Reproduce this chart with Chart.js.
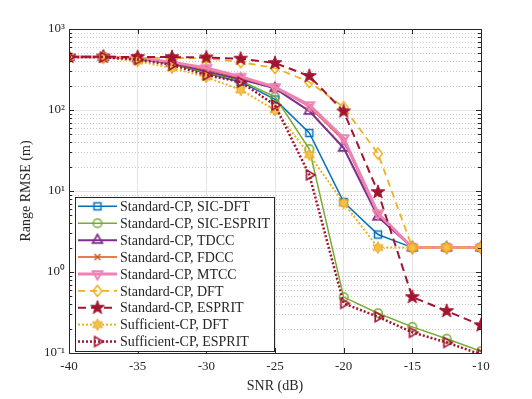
<!DOCTYPE html>
<html lang="en">
<head>
  <meta charset="utf-8" />
  <title>Range RMSE vs SNR</title>
  <script src="https://cdn.jsdelivr.net/npm/chart.js@4.4.1/dist/chart.umd.min.js"></script>
  <style>
    html, body { margin: 0; padding: 0; background: #fff; }
    #chart { display: block; }
  </style>
</head>
<body>
<canvas id="chart" width="532" height="399"></canvas>

<script>
// SNR points (dB)
const snr = [-40, -37.5, -35, -32.5, -30, -27.5, -25, -22.5, -20, -17.5, -15, -12.5, -10];

// Range RMSE (m)
const sicDft      = [450, 450, 430, 370, 285, 222, 135, 52, 7.3, 2.9, 2, 2, 2];
const sicEsprit   = [450, 450, 430, 370, 290, 230, 145, 33, 0.49, 0.31, 0.21, 0.15, 0.105];
const tdcc        = [450, 450, 435, 380, 300, 240, 185, 97, 34, 4.8, 2, 2, 2];
const fdcc        = [450, 450, 440, 385, 315, 250, 190, 110, 42, 5.1, 2, 2, 2];
const mtcc        = [450, 450, 440, 390, 330, 258, 192, 115, 45, 5.3, 2, 2, 2];
const stdDft      = [450, 450, 440, 440, 435, 390, 330, 222, 108, 29, 2, 2, 2];
const stdEsprit   = [455, 455, 450, 450, 445, 430, 380, 263, 96, 9.7, 0.49, 0.33, 0.22];
const sufDft      = [450, 445, 400, 330, 255, 177, 100, 28, 7.1, 2.0, 2, 2, 2];
const sufEsprit   = [450, 450, 420, 360, 270, 222, 115, 15.8, 0.41, 0.28, 0.18, 0.135, 0.096];

const seriesNames = [
  'Standard-CP, SIC-DFT',
  'Standard-CP, SIC-ESPRIT',
  'Standard-CP, TDCC',
  'Standard-CP, FDCC',
  'Standard-CP, MTCC',
  'Standard-CP, DFT',
  'Standard-CP, ESPRIT',
  'Sufficient-CP, DFT',
  'Sufficient-CP, ESPRIT'
];

const yTickValues = [0.1, 1, 10, 100, 1000];
const yTickLabels = ['10\u207B\u00B9', '10\u2070', '10\u00B9', '10\u00B2', '10\u00B3'];
const xTickValues = [-40, -35, -30, -25, -20, -15, -10];

const FONT = '"Liberation Serif", "Times New Roman", serif';
const INK = '#262626';

/**
 * makeMarker
 * Draws a marker glyph into a small offscreen canvas, used as pointStyle.
 */
function makeMarker(kind, color, lw, fill) {
  const s = 18;
  const c = document.createElement('canvas');
  c.width = s; c.height = s;
  const g = c.getContext('2d');
  const m = s / 2;
  g.strokeStyle = color;
  g.fillStyle = fill || color;
  g.lineWidth = lw;
  g.lineJoin = 'miter';
  g.beginPath();
  if (kind === 'square') {
    g.rect(m - 3.5, m - 3.5, 7, 7);
  } else if (kind === 'circle') {
    g.arc(m, m, 4.3, 0, Math.PI * 2);
  } else if (kind === 'triUp' || kind === 'triDown' || kind === 'triRight') {
    const rot = kind === 'triUp' ? -Math.PI / 2 : (kind === 'triDown' ? Math.PI / 2 : 0);
    for (let i = 0; i < 3; i++) {
      const a = rot + i * 2 * Math.PI / 3;
      const px = m + 5.6 * Math.cos(a), py = m + 5.6 * Math.sin(a);
      if (i === 0) g.moveTo(px, py); else g.lineTo(px, py);
    }
    g.closePath();
  } else if (kind === 'cross') {
    g.moveTo(m - 3, m - 3); g.lineTo(m + 3, m + 3);
    g.moveTo(m + 3, m - 3); g.lineTo(m - 3, m + 3);
  } else if (kind === 'diamond') {
    g.moveTo(m, m - 5.5); g.lineTo(m + 4.5, m); g.lineTo(m, m + 5.5); g.lineTo(m - 4.5, m);
    g.closePath();
  } else if (kind === 'star5' || kind === 'star6') {
    const n = kind === 'star5' ? 5 : 6;
    const ro = kind === 'star5' ? 7.2 : 5.8;
    const ri = kind === 'star5' ? 2.9 : 3.2;
    for (let i = 0; i < n * 2; i++) {
      const r = i % 2 === 0 ? ro : ri;
      const a = -Math.PI / 2 + i * Math.PI / n;
      const px = m + r * Math.cos(a), py = m + r * Math.sin(a);
      if (i === 0) g.moveTo(px, py); else g.lineTo(px, py);
    }
    g.closePath();
  }
  if (fill) g.fill();
  g.stroke();
  return c;
}

const colors = ['#0072BD', '#77AC30', '#7E2F8E', '#D95319', '#EE82B6', '#EDB120', '#A2142F', '#EDB120', '#A2142F'];
const values = [sicDft, sicEsprit, tdcc, fdcc, mtcc, stdDft, stdEsprit, sufDft, sufEsprit];
const widths = [1.5, 1.5, 2, 1.5, 3, 1.8, 2, 2, 2.5];
const dashes = [[], [], [], [], [], [7, 5], [8, 5], [2, 2], [2, 2]];
const markers = [
  makeMarker('square', colors[0], 1.5),
  makeMarker('circle', colors[1], 1.5),
  makeMarker('triUp', colors[2], 1.8),
  makeMarker('cross', colors[3], 1.5),
  makeMarker('triDown', colors[4], 2),
  makeMarker('diamond', colors[5], 1.5),
  makeMarker('star5', colors[6], 1, colors[6]),
  makeMarker('star6', '#E8A81C', 1, '#F2C14A'),
  makeMarker('triRight', colors[8], 1.6)
];

const datasets = seriesNames.map((name, i) => ({
  label: name,
  data: snr.map((x, k) => ({ x: x, y: values[i][k] })),
  borderColor: colors[i],
  backgroundColor: colors[i],
  borderWidth: widths[i],
  borderDash: dashes[i],
  pointStyle: markers[i],
  pointRadius: 5,
  pointHoverRadius: 5,
  fill: false,
  tension: 0,
  order: 20 - i   // later series on top, as in the figure
}));

// Dotted minor grid on the log axis, drawn under the data
const minorGrid = {
  id: 'minorGrid',
  beforeDatasetsDraw(chart) {
    const { ctx, chartArea: a, scales: { y } } = chart;
    ctx.save();
    ctx.strokeStyle = '#c8c8c8';
    ctx.lineWidth = 1;
    ctx.setLineDash([1, 2]);
    for (let d = 0.1; d < 1000; d *= 10) {
      for (let k = 2; k <= 9; k++) {
        const py = Math.round(y.getPixelForValue(d * k)) + 0.5;
        ctx.beginPath();
        ctx.moveTo(a.left, py);
        ctx.lineTo(a.right, py);
        ctx.stroke();
      }
    }
    ctx.restore();
  }
};

// Box and inward tick marks, MATLAB-like
const axesBox = {
  id: 'axesBox',
  afterDatasetsDraw(chart) {
    const { ctx, chartArea: a, scales: { x, y } } = chart;
    ctx.save();
    ctx.strokeStyle = INK;
    ctx.lineWidth = 1;
    ctx.beginPath();
    xTickValues.forEach(v => {
      const px = Math.round(x.getPixelForValue(v)) + 0.5;
      ctx.moveTo(px, a.bottom); ctx.lineTo(px, a.bottom - 5);
      ctx.moveTo(px, a.top); ctx.lineTo(px, a.top + 5);
    });
    for (let d = 0.1; d <= 1000; d *= 10) {
      for (let k = 1; k <= 9; k++) {
        if (d * k > 1000.001) break;
        const len = k === 1 ? 5 : 3;
        const py = Math.round(y.getPixelForValue(d * k)) + 0.5;
        ctx.moveTo(a.left, py); ctx.lineTo(a.left + len, py);
        ctx.moveTo(a.right, py); ctx.lineTo(a.right - len, py);
      }
    }
    ctx.stroke();
    ctx.strokeRect(Math.round(a.left) + 0.5, Math.round(a.top) + 0.5,
      Math.round(a.right - a.left), Math.round(a.bottom - a.top));
    ctx.restore();
  }
};

// Legend box inside the lower-left corner of the plot
const innerLegend = {
  id: 'innerLegend',
  afterDraw(chart) {
    const { ctx, chartArea: a } = chart;
    const rowH = 16.9;
    const n = chart.data.datasets.length;
    const boxW = 199, boxH = n * rowH + 2;
    const bx = a.left + 6, by = a.bottom - 2 - boxH;
    ctx.save();
    ctx.fillStyle = '#fff';
    ctx.fillRect(bx, by, boxW, boxH);
    ctx.strokeStyle = INK;
    ctx.lineWidth = 1;
    ctx.strokeRect(Math.round(bx) + 0.5, Math.round(by) + 0.5, boxW, Math.round(boxH));
    ctx.font = '14px ' + FONT;
    ctx.textBaseline = 'middle';
    chart.data.datasets.forEach((ds, i) => {
      const cy = by + 1 + rowH * (i + 0.5);
      ctx.strokeStyle = ds.borderColor;
      ctx.lineWidth = ds.borderWidth;
      ctx.setLineDash(ds.borderDash);
      ctx.beginPath();
      ctx.moveTo(bx + 3, cy);
      ctx.lineTo(bx + 42, cy);
      ctx.stroke();
      ctx.setLineDash([]);
      const img = ds.pointStyle;
      ctx.drawImage(img, bx + 22.5 - img.width / 2, cy - img.height / 2);
      ctx.fillStyle = INK;
      ctx.fillText(ds.label, bx + 45, cy + 1);
    });
    ctx.restore();
  }
};

const ctx = document.getElementById('chart').getContext('2d');
new Chart(ctx, {
  type: 'line',
  data: { datasets: datasets },
  plugins: [minorGrid, axesBox, innerLegend],
  options: {
    responsive: false,
    animation: false,
    layout: { padding: { left: 18, right: 51, top: 29, bottom: 4 } },
    plugins: {
      legend: { display: false },
      tooltip: { enabled: false }
    },
    scales: {
      x: {
        type: 'linear',
        min: -40,
        max: -10,
        afterFit: s => { s.height = 42; },
        afterBuildTicks: s => { s.ticks = xTickValues.map(v => ({ value: v })); },
        ticks: {
          color: INK,
          font: { family: FONT, size: 13 },
          padding: 6,
          maxRotation: 0,
          callback: v => String(v)
        },
        grid: { color: '#e3e3e3', drawTicks: false },
        border: { display: false },
        title: {
          display: true,
          text: 'SNR (dB)',
          color: INK,
          font: { family: FONT, size: 14 },
          padding: { top: 0, bottom: 0 }
        }
      },
      y: {
        type: 'logarithmic',
        min: 0.1,
        max: 1000,
        afterFit: s => { s.width = 51; },
        afterBuildTicks: s => { s.ticks = yTickValues.map(v => ({ value: v })); },
        ticks: {
          color: INK,
          font: { family: FONT, size: 13 },
          padding: 4,
          callback: (v) => yTickLabels[yTickValues.findIndex(t => Math.abs(t - v) < t * 1e-6)]
        },
        grid: { color: '#e3e3e3', drawTicks: false },
        border: { display: false },
        title: {
          display: true,
          text: 'Range RMSE (m)',
          color: INK,
          font: { family: FONT, size: 14 },
          padding: { top: 0, bottom: 4 }
        }
      }
    }
  }
});
</script>
</body>
</html>
